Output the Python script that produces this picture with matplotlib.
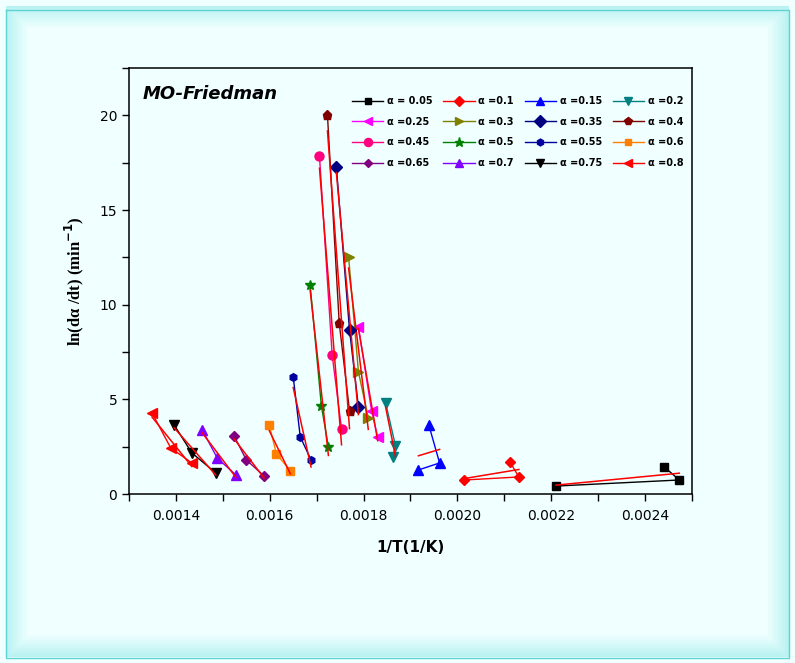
import numpy as np
import matplotlib.pyplot as plt
from matplotlib.ticker import MultipleLocator, FormatStrFormatter

# conversion levels
alphas = ['0.05', '0.1', '0.15', '0.2', '0.25', '0.3', '0.35', '0.4',
          '0.45', '0.5', '0.55', '0.6', '0.65', '0.7', '0.75', '0.8']

# 1/T values (1/K), three heating rates per alpha
inv_T = [
    [0.002210, 0.002473, 0.002441],
    [0.002015, 0.002131, 0.002112],
    [0.001939, 0.001962, 0.001917],
    [0.001847, 0.001868, 0.001862],
    [0.001789, 0.001817, 0.001830],
    [0.001768, 0.001789, 0.001810],
    [0.001742, 0.001770, 0.001789],
    [0.001723, 0.001748, 0.001770],
    [0.001706, 0.001733, 0.001753],
    [0.001686, 0.001710, 0.001725],
    [0.001650, 0.001665, 0.001688],
    [0.001599, 0.001614, 0.001644],
    [0.001524, 0.001550, 0.001588],
    [0.001456, 0.001488, 0.001528],
    [0.001396, 0.001434, 0.001485],
    [0.001349, 0.001389, 0.001434],
]

# ln(da/dt) values
ln_rate = [
    [0.42, 0.74, 1.43],
    [0.74, 0.90, 1.69],
    [3.65, 1.64, 1.27],
    [4.81, 2.54, 1.96],
    [8.84, 4.39, 3.02],
    [12.54, 6.46, 4.02],
    [17.25, 8.68, 4.60],
    [20.00, 9.05, 4.39],
    [17.83, 7.35, 3.44],
    [11.06, 4.66, 2.49],
    [6.19, 3.02, 1.80],
    [3.65, 2.12, 1.22],
    [3.07, 1.80, 0.95],
    [3.39, 1.90, 1.00],
    [3.65, 2.17, 1.11],
    [4.28, 2.43, 1.64],
]

colors = ['black', 'red', 'blue', '#008080', 'magenta', '#808000', '#000080', '#800000',
          '#FF0080', '#008000', '#0000A0', '#FF8000', '#800080', '#8000FF', 'black', 'red']
markers = ['s', 'D', '^', 'v', '<', '>', 'D', 'p', 'o', '*', 'h', 's', 'D', '^', 'v', '<']
msizes = [5.5, 5.5, 6.5, 6.5, 6.5, 6.5, 6.5, 6.5, 6.5, 7.5, 5.5, 5.5, 5, 6.5, 6.5, 6.5]

bg = '#F0FFFF'
fig = plt.figure(figsize=(7.95, 6.63), dpi=100, facecolor=bg)

# soft cyan border around the page
bgax = fig.add_axes([0, 0, 1, 1], zorder=-10)
h, w = 663, 795
yy, xx = np.mgrid[0:h, 0:w]
d = np.minimum(np.minimum(xx, w - 1 - xx), np.minimum(yy, h - 1 - yy)).astype(float)
fade = np.clip(1 - (d - 6) / 22.0, 0, 1)
c0 = np.array([0xF0, 0xFF, 0xFF]) / 255.0
c1 = np.array([0xB8, 0xF2, 0xF2]) / 255.0
img = c0 + (c1 - c0) * fade[..., None]
img[d < 6] = c0
bgax.imshow(img, aspect='auto', extent=[0, 1, 0, 1], origin='upper')
bgax.plot([0.008, 0.992, 0.992, 0.008, 0.008], [0.985, 0.985, 0.008, 0.008, 0.985],
          color='#5FD3D3', lw=1.0)
bgax.set_xlim(0, 1)
bgax.set_ylim(0, 1)
bgax.axis('off')

ax = fig.add_axes([0.1623, 0.2549, 0.7081, 0.6425])
ax.set_facecolor(bg)

handles = []
for i in range(len(alphas)):
    x = np.array(inv_T[i])
    y = np.array(ln_rate[i])
    ln, = ax.plot(x, y, color=colors[i], marker=markers[i], ms=msizes[i], lw=1.0,
                  label='\u03b1 = ' + alphas[i] if i == 0 else '\u03b1 =' + alphas[i])
    handles.append(ln)
    k, b = np.polyfit(x, y, 1)
    xf = np.array([x.min(), x.max()])
    ax.plot(xf, k * xf + b, color='red', lw=1.1)

order = [r * 4 + c for c in range(4) for r in range(4)]
leg = ax.legend([handles[j] for j in order], [handles[j].get_label() for j in order],
                ncol=4, loc='upper right', bbox_to_anchor=(1.0, 0.955), frameon=False,
                prop={'size': 7, 'weight': 'bold'}, numpoints=1, handlelength=3.2,
                handletextpad=0.4, columnspacing=1.1, labelspacing=1.1, markerscale=0.9)

ax.text(0.025, 0.94, 'MO-Friedman', transform=ax.transAxes, fontsize=13,
        fontweight='bold', fontstyle='italic', va='center')

ax.set_xlim(0.0013, 0.0025)
ax.set_ylim(0, 22.5)
ax.xaxis.set_major_locator(MultipleLocator(0.0002))
ax.xaxis.set_minor_locator(MultipleLocator(0.0001))
ax.xaxis.set_major_formatter(FormatStrFormatter('%.4f'))
ax.yaxis.set_major_locator(MultipleLocator(5))
ax.yaxis.set_minor_locator(MultipleLocator(2.5))
ax.tick_params(which='both', direction='out', length=5, width=1, labelsize=10)
ax.tick_params(axis='x', pad=6)
for s in ax.spines.values():
    s.set_linewidth(1.1)

ax.set_xlabel('1/T(1/K)', fontsize=11, fontweight='bold', labelpad=12)
ax.set_ylabel('ln(d\u03b1 /dt) (min$^{\\mathbf{-1}}$)', fontsize=12, fontweight='bold',
              family='Liberation Serif', labelpad=10)

fig.savefig('out.png', dpi=100, facecolor=bg)
